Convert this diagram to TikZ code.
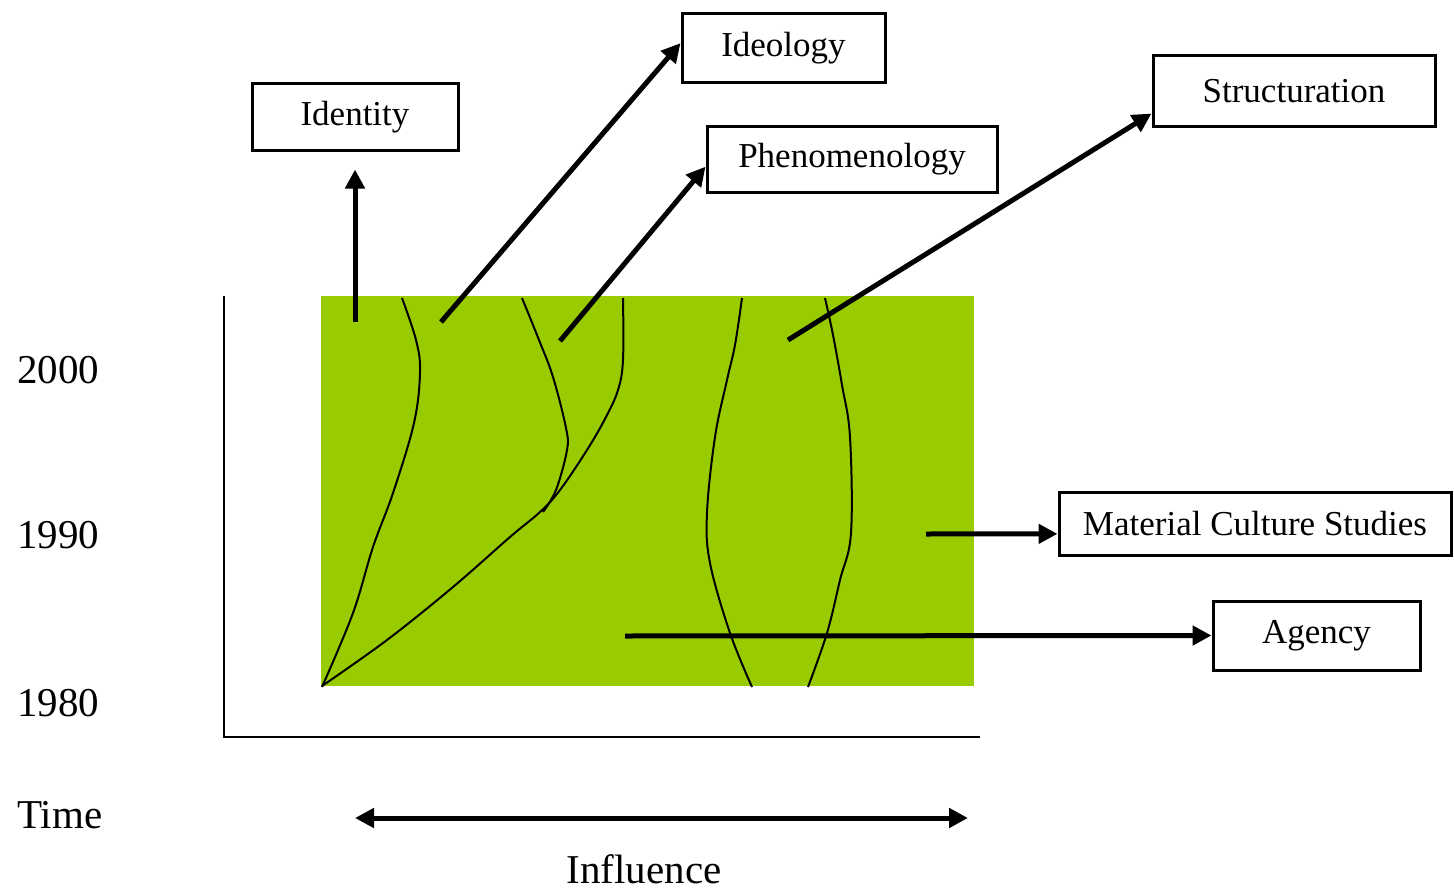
\documentclass[tikz,border=0pt]{standalone}
\usepackage{fontspec}
\setmainfont{Liberation Serif}
\usetikzlibrary{arrows.meta}
\definecolor{leaf}{RGB}{153,204,0}
\begin{document}
\begin{tikzpicture}[x=1pt,y=-1pt,
  box/.style={draw,line width=3pt,inner sep=0pt,font=\fontsize{35}{42}\selectfont},
  lbl/.style={inner sep=0pt,font=\fontsize{41}{49}\selectfont},
  arr/.style={line width=5pt,-{Triangle[length=19pt,width=19pt]}},
  dbl/.style={line width=5pt,{Triangle[length=19pt,width=19pt]}-{Triangle[length=19pt,width=19pt]}},
  curve/.style={line width=2pt},
  axis/.style={line width=2.5pt}]
\useasboundingbox (0,0) rectangle (1454,891);
\fill[leaf] (321,296) rectangle (974,686);
% axes
\draw[axis] (224,296) -- (224,737) -- (980,737);
% curves
\draw[curve] plot[smooth,tension=0.6] coordinates {(402,298) (416,340) (420,372) (414,423) (393,493) (373,547) (353,613) (322,687)};
\draw[curve] plot[smooth,tension=0.6] coordinates {(522,298) (539,340) (553,377) (566,428) (567,450) (556,490) (543,512)};
\draw[curve] plot[smooth,tension=0.6] coordinates {(623,298) (623,360) (618,390) (606,417) (587,450) (560,490) (540,512) (510,537) (453,587) (387,640) (322,686)};
\draw[curve] plot[smooth,tension=0.6] coordinates {(742,298) (735,345) (727,380) (715,437) (707,513) (710,563) (730,633) (752,687)};
\draw[curve] plot[smooth,tension=0.6] coordinates {(825,298) (833,335) (842,385) (850,437) (851,533) (840,580) (827,633) (808,687)};
% boxes
\node[box,minimum width=206pt,minimum height=66pt] (ident) at (355,117) {Identity};
\node[box,minimum width=203pt,minimum height=69pt] (ideo) at (783.5,48.5) {Ideology};
\node[box,minimum width=290pt,minimum height=66pt] (phen) at (852,159) {Phenomenology};
\node[box,minimum width=282pt,minimum height=70pt] (struc) at (1294,91) {Structuration};
\node[box,minimum width=392pt,minimum height=63pt] (mcs) at (1255,523.5) {Material Culture Studies};
\node[box,minimum width=207pt,minimum height=69pt] (agency) at (1316.5,635.5) {Agency};
% arrow tails
\coordinate (tId) at (355,322);
\coordinate (tIdeo) at (441,322);
\coordinate (tPhen) at (560,341);
\coordinate (tStruc) at (788,340);
\coordinate (tMcs) at (926,534);
\coordinate (tAg) at (625,636);
\coordinate (infL) at (355,818);
\coordinate (infR) at (968,818);
\draw[arr,shorten >=18pt] (tId) -- (ident.south);
\draw[arr] (tIdeo) -- (ideo.177.5);
\draw[arr] (tPhen) -- (phen.183.5);
\draw[arr] (tStruc) -- (struc.189);
\draw[arr] (tMcs) -- (mcs.183.07);
\draw[arr] (tAg) -- (agency.west);
\draw[dbl] (infL) -- (infR);
% labels
\node[lbl,anchor=west] (y2000) at (17,370) {2000};
\node[lbl,anchor=west] (y1990) at (17,535) {1990};
\node[lbl,anchor=west] (y1980) at (17,703) {1980};
\node[lbl,anchor=west] (time) at (17,815) {Time};
\node[lbl] (infl) at (644,869) {Influence};
\end{tikzpicture}
\end{document}
